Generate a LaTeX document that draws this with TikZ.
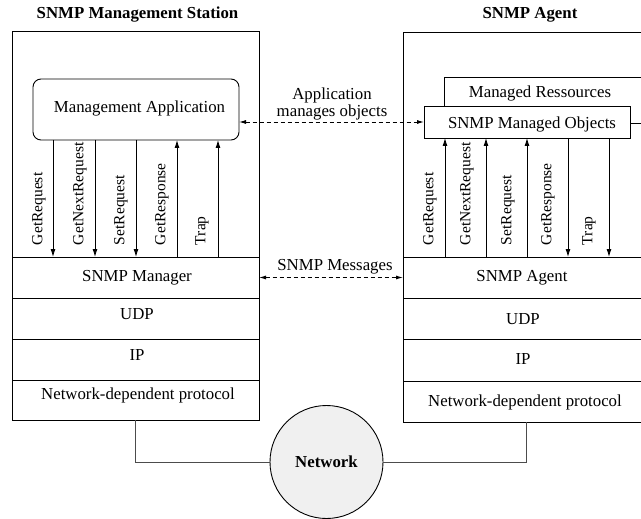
\documentclass[tikz,border=0pt]{standalone}
\usepackage{fontspec}
\setmainfont{Liberation Serif}
\usetikzlibrary{arrows.meta}
\begin{document}
\begin{tikzpicture}[x=1pt,y=-1pt,
  every node/.style={font=\fontsize{16.8}{19}\selectfont, inner sep=0pt, outer sep=0pt},
  box/.style={draw, line width=0.9pt, fill=white},
  arr/.style={line width=0.9pt, -{Latex[length=8pt,width=5pt]}},
  darr/.style={line width=0.9pt, dash pattern=on 4pt off 3pt, {Latex[length=7pt,width=4pt]}-{Latex[length=7pt,width=4pt]}},
  conn/.style={line width=0.9pt, draw=black!70},
  vlab/.style={rotate=90, anchor=west, font=\fontsize{15.5}{18}\selectfont},
  ttl/.style={font=\fontsize{16.8}{19}\selectfont\bfseries}
]
\useasboundingbox (0,0) rectangle (641,519);
\clip (0,0) rectangle (641,519);

% titles
\node[ttl] (t1) at (137.5,15) {SNMP Management Station};
\node[ttl] (t2) at (530,15) {SNMP Agent};

% left station
\node[box, minimum width=247pt, minimum height=389pt] (ms) at (135.5,225.5) {};
\node[box, rounded corners=8pt, minimum width=206pt, minimum height=61pt] (app) at (136,109.5) {};
\node (appt) at (139.5,108) {Management Application};
\node[box, minimum width=247pt, minimum height=41pt] (mgr) at (135.5,277.5) {};
\node[box, minimum width=247pt, minimum height=41pt] (ludp) at (135.5,318.5) {};
\node[box, minimum width=247pt, minimum height=41pt] (lip) at (135.5,359.5) {};
\node[box, minimum width=247pt, minimum height=40pt] (lnd) at (135.5,400) {};
\node (mgrt) at (137,278) {SNMP Manager};
\node (ludpt) at (137,314) {UDP};
\node (lipt) at (137,355) {IP};
\node (lndt) at (138,395) {Network-dependent protocol};

% right agent
\node[box, minimum width=247pt, minimum height=390pt] (as) at (526.5,227) {};
\node[box, minimum width=216pt, minimum height=46pt] (mr) at (552,100) {};
\node (mrt) at (540,93) {Managed Ressources};
\node[box, minimum width=206pt, minimum height=32pt] (smo) at (527,122) {};
\node (smot) at (532,124) {SNMP Managed Objects};
\node[box, minimum width=247pt, minimum height=41pt] (agt) at (526.5,277.5) {};
\node[box, minimum width=247pt, minimum height=41pt] (rudp) at (526.5,318.5) {};
\node[box, minimum width=247pt, minimum height=42pt] (rip) at (526.5,360) {};
\node[box, minimum width=247pt, minimum height=41pt] (rnd) at (526.5,401.5) {};
\node (agtt) at (522,278) {SNMP Agent};
\node (rudpt) at (523,319) {UDP};
\node (ript) at (523,359) {IP};
\node (rndt) at (525,402) {Network-dependent protocol};

% left vertical arrows
\draw[arr] (app.south -| 53,0) -- (mgr.north -| 53,0);
\draw[arr] (app.south -| 95,0) -- (mgr.north -| 95,0);
\draw[arr] (app.south -| 136,0) -- (mgr.north -| 136,0);
\draw[arr] (mgr.north -| 177,0) -- (app.south -| 177,0);
\draw[arr] (mgr.north -| 218,0) -- (app.south -| 218,0);
\node[vlab] (l1) at (39,245) {GetRequest};
\node[vlab] (l2) at (80,245) {GetNextRequest};
\node[vlab] (l3) at (121,245) {SetRequest};
\node[vlab] (l4) at (162,245) {GetResponse};
\node[vlab] (l5) at (202,245) {Trap};

% right vertical arrows
\draw[arr] (agt.north -| 445,0) -- (smo.south -| 445,0);
\draw[arr] (agt.north -| 486,0) -- (smo.south -| 486,0);
\draw[arr] (agt.north -| 527,0) -- (smo.south -| 527,0);
\draw[arr] (smo.south -| 568,0) -- (agt.north -| 568,0);
\draw[arr] (smo.south -| 609,0) -- (agt.north -| 609,0);
\node[vlab] (r1) at (430,245) {GetRequest};
\node[vlab] (r2) at (467,245) {GetNextRequest};
\node[vlab] (r3) at (508,245) {SetRequest};
\node[vlab] (r4) at (548,245) {GetResponse};
\node[vlab] (r5) at (589,245) {Trap};

% dashed links
\draw[darr] (app.east |- smo.west) -- (smo.west);
\node[align=center, font=\fontsize{16.8}{15}\selectfont] (amo) at (332,104) {Application\\manages objects};
\draw[darr] (mgr.east) -- (agt.west);
\node (msg) at (335,267) {SNMP Messages};

% network
\node[circle, draw, line width=0.9pt, fill=black!6, minimum size=113pt, font=\fontsize{16.8}{19}\selectfont\bfseries] (net) at (326.5,462) {Network};
\draw[conn] (ms.south) |- (net.west);
\draw[conn] (as.south) |- (net.east);
\end{tikzpicture}
\end{document}
